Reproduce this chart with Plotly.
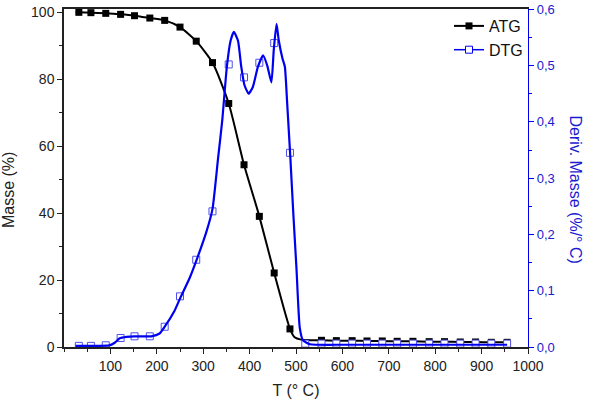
import plotly.graph_objects as go

# ---- data ----
marker_T = [32, 58, 90, 122, 152, 185, 217, 250, 285, 320, 355, 388, 421, 453, 487,
            520, 555, 587, 621, 653, 686, 718, 752, 787, 820, 854, 887, 921, 955]

atg_marker_vals = [99.9, 99.8, 99.6, 99.3, 98.9, 98.2, 97.5, 95.5, 91.3, 84.9, 72.7, 54.4,
                   39.0, 22.1, 5.4, None, 2.0, 1.9, 1.9, 1.8, 1.8, 1.7, 1.7, 1.6, 1.6, 1.5,
                   1.5, 1.4, 1.4]

atg_line_T = [25, 32, 58, 90, 122, 152, 185, 217, 250, 285, 320, 355, 388, 421, 453, 487,
              497, 511, 530, 555, 587, 621, 653, 686, 718, 752, 787, 820, 854, 887, 921, 955]
atg_line_vals = [99.95, 99.9, 99.8, 99.6, 99.3, 98.9, 98.2, 97.5, 95.5, 91.3, 84.9, 72.7,
                 54.4, 39.0, 22.1, 5.4, 2.9, 2.2, 2.05, 2.0, 1.9, 1.9, 1.8, 1.8, 1.7, 1.7,
                 1.6, 1.6, 1.5, 1.5, 1.4, 1.4]

dtg_marker_vals = [0.002, 0.002, 0.003, 0.016, 0.019, 0.019, 0.036, 0.090, 0.155, 0.241,
                   0.502, 0.479, 0.505, 0.540, 0.345, 0.006, 0.006, 0.006, 0.006, 0.006,
                   0.006, 0.006, 0.006, 0.006, 0.006, 0.006, 0.006, 0.006, 0.006]

dtg_line_T = [25, 60, 98, 110, 120, 135, 152, 188, 206, 217, 238, 250, 271, 285, 307, 320,
              332, 341, 351, 359, 366, 375, 382, 389, 398, 407, 418, 429, 438, 447, 452,
              458, 463, 471, 476, 481, 488, 494, 501, 508, 515, 530, 600, 700, 800, 900, 955]
dtg_line_vals = [0.002, 0.002, 0.003, 0.008, 0.0155, 0.018, 0.019, 0.019, 0.024, 0.036,
                 0.064, 0.086, 0.123, 0.153, 0.205, 0.245, 0.335, 0.402, 0.498, 0.544,
                 0.560, 0.544, 0.498, 0.465, 0.450, 0.462, 0.498, 0.518, 0.500, 0.470,
                 0.527, 0.574, 0.544, 0.512, 0.498, 0.433, 0.334, 0.240, 0.140, 0.035,
                 0.012, 0.005, 0.004, 0.004, 0.004, 0.004, 0.004]

x_ticks = [100, 200, 300, 400, 500, 600, 700, 800, 900, 1000]
y_ticks = [0, 20, 40, 60, 80, 100]
y2_ticks = [0.0, 0.1, 0.2, 0.3, 0.4, 0.5, 0.6]

BLUE = "#0000f0"
TXT_BLUE = "#1a1ad0"
FONT = "Liberation Sans, Arial, sans-serif"

fig = go.Figure()

# ATG (left axis)
fig.add_trace(go.Scatter(x=atg_line_T, y=atg_line_vals, mode="lines",
                         line=dict(color="black", width=2, shape="spline", smoothing=0.6),
                         showlegend=False, hoverinfo="skip"))
fig.add_trace(go.Scatter(x=marker_T, y=atg_marker_vals, mode="markers",
                         marker=dict(symbol="square", size=7, color="black"),
                         showlegend=False))

# DTG (right axis): markers first, line drawn over them
fig.add_trace(go.Scatter(x=marker_T, y=dtg_marker_vals, mode="markers", yaxis="y2",
                         marker=dict(symbol="square", size=7, color="white",
                                     line=dict(color="#5050e8", width=1)),
                         showlegend=False))
fig.add_trace(go.Scatter(x=dtg_line_T, y=dtg_line_vals, mode="lines", yaxis="y2",
                         line=dict(color=BLUE, width=2.2, shape="spline", smoothing=0.5),
                         showlegend=False, hoverinfo="skip"))

# legend entries
fig.add_trace(go.Scatter(x=[None], y=[None], mode="lines+markers", name="ATG",
                         line=dict(color="black", width=2),
                         marker=dict(symbol="square", size=7, color="black")))
fig.add_trace(go.Scatter(x=[None], y=[None], mode="lines+markers", name="DTG", yaxis="y2",
                         line=dict(color=BLUE, width=1.5),
                         marker=dict(symbol="square", size=7, color="white",
                                     line=dict(color=BLUE, width=1))))

fig.update_layout(
    width=590, height=399,
    margin=dict(l=64, r=62, t=9, b=52, pad=0),
    paper_bgcolor="white", plot_bgcolor="white",
    separators=", ",
    font=dict(family=FONT, size=14, color="#222"),
    showlegend=True,
    legend=dict(x=1.0, y=1.0, xanchor="right", yanchor="top",
                bgcolor="rgba(0,0,0,0)", font=dict(size=16, color="#111"),
                tracegroupgap=0, itemwidth=30),
    xaxis=dict(range=[0, 1000], tickvals=x_ticks, showgrid=False, zeroline=False,
               showline=True, linecolor="#222", linewidth=1.5, mirror=True,
               ticks="outside", ticklen=5, tickcolor="#222", automargin=False,
               ticklabeloverflow="allow",
               minor=dict(dtick=50, tick0=0, ticks="outside", ticklen=3, tickcolor="#222"),
               title=dict(text="T (° C)", font=dict(size=16), standoff=14)),
    yaxis=dict(range=[0, 100.9], tickvals=y_ticks, showgrid=False, zeroline=False,
               showline=True, linecolor="#222", linewidth=1.5, automargin=False,
               ticks="outside", ticklen=5, tickcolor="#222", ticklabeloverflow="allow",
               minor=dict(dtick=10, tick0=0, ticks="outside", ticklen=3, tickcolor="#222")),
    yaxis2=dict(range=[0, 0.6005], tickvals=y2_ticks, tickformat=".1f", overlaying="y",
                side="right", showgrid=False, zeroline=False, automargin=False,
                showline=True, linecolor=BLUE, linewidth=1.2, ticklabeloverflow="allow",
                ticks="outside", ticklen=5, tickcolor=BLUE,
                minor=dict(dtick=0.05, tick0=0, ticks="outside", ticklen=3, tickcolor=BLUE),
                tickfont=dict(color=TXT_BLUE, size=13)),
    annotations=[
        dict(text="Masse (%)", xref="paper", yref="paper", x=-0.118, y=0.465,
             xanchor="center", yanchor="middle", textangle=-90, showarrow=False,
             font=dict(size=16, color="#222")),
        dict(text="Deriv. Masse (%/° C)", xref="paper", yref="paper", x=1.102, y=0.465,
             xanchor="center", yanchor="middle", textangle=90, showarrow=False,
             font=dict(size=16, color=TXT_BLUE)),
    ],
)

fig.write_html("out.html")
